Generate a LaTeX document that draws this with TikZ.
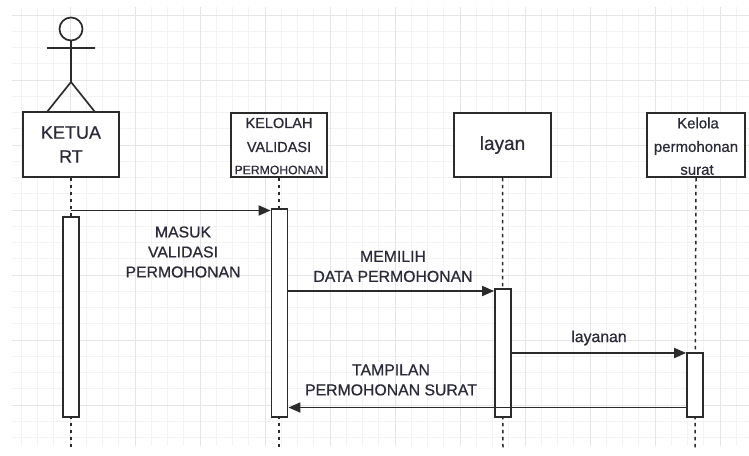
\documentclass[tikz,border=0pt]{standalone}
\usepackage{fontspec}
\setmainfont{Liberation Sans}[FakeBold=0.6]
\usetikzlibrary{arrows.meta}
\definecolor{ln}{HTML}{2B2B2B}
\definecolor{tx}{HTML}{2A2A38}
\definecolor{gminor}{HTML}{F3F3F3}
\definecolor{gmajor}{HTML}{E5E5E5}
\begin{document}
\begin{tikzpicture}[x=1pt,y=-1pt,
  head/.style={draw=ln,line width=1.8pt,fill=white,rectangle,inner sep=0pt},
  actbar/.style={draw=ln,line width=1.8pt,fill=white,rectangle,inner sep=0pt,minimum width=16pt},
  life/.style={draw=ln,line width=1.5pt,dash pattern=on 3.5pt off 3.5pt},
  msg/.style={draw=ln,line width=1.8pt,-{Triangle[length=12pt,width=10pt]}},
  lbl/.style={text=tx,align=center,font=\fontsize{15.8}{20}\selectfont,inner sep=0pt},
  htxt/.style={text=tx,inner sep=0pt}]
\useasboundingbox (0,0) rectangle (749,455);
\fill[white] (0,0) rectangle (749,455);
% grid
\begin{scope}
\clip (12,7) rectangle (749,445);
\foreach \i in {0,...,46} {\draw[gminor,line width=0.8pt] ({5+16.25*\i},0) -- ({5+16.25*\i},455);}
\foreach \i in {0,...,28} {\draw[gminor,line width=0.8pt] (0,{-1.25+16.25*\i}) -- (749,{-1.25+16.25*\i});}
\foreach \i in {0,...,12} {\draw[gmajor,line width=0.8pt] ({5+65*\i},0) -- ({5+65*\i},455);}
\foreach \i in {0,...,7} {\draw[gmajor,line width=0.8pt] (0,{15+65*\i}) -- (749,{15+65*\i});}
\end{scope}
% actor
\draw[ln,line width=1.7pt] (71,29) circle (11.5);
\draw[ln,line width=1.7pt] (71,40.5) -- (71,82) (47,48) -- (95,48) (47,112) -- (71,82) -- (95,112);
% heads
\node[head,minimum width=96pt,minimum height=65pt] (kt) at (71,144.5) {};
\node[htxt,align=center,font=\fontsize{18}{24}\selectfont] at (kt.center) {KETUA\\RT};
\node[head,minimum width=96pt,minimum height=64pt] (kv) at (279,145) {};
\node[htxt,font=\fontsize{14.5}{16}\selectfont] at (279,123) {KELOLAH};
\node[htxt,font=\fontsize{14.5}{16}\selectfont] at (279,147) {VALIDASI};
\node[htxt,font=\fontsize{12.2}{14}\selectfont] at (279,170) {PERMOHONAN};
\node[head,minimum width=97pt,minimum height=64pt] (ly) at (502.5,145) {};
\node[htxt,font=\fontsize{19}{22}\selectfont] at (ly.center) {layan};
\node[head,minimum width=98pt,minimum height=64pt] (kp) at (696,145) {};
\node[htxt,font=\fontsize{15}{16}\selectfont] at (698,123) {Kelola};
\node[htxt,font=\fontsize{15}{16}\selectfont] at (696,148) {permohonan};
\node[htxt,font=\fontsize{15}{16}\selectfont] at (697,170) {surat};
% lifelines
\coordinate (e1) at (71,450);
\coordinate (e2) at (279,450);
\coordinate (e3) at (503,450);
\coordinate (e4) at (695,450);
\draw[life] (kt.south) -- (e1);
\draw[life] (kv.south) -- (e2);
\draw[life] (ly.south) -- (e3);
\draw[life] (kp.south) -- (e4);
% activation bars
\node[actbar,minimum height=200pt] (a1) at (71,317) {};
\node[actbar,minimum height=208pt] (a2) at (279.5,313) {};
\node[actbar,minimum height=128pt] (a3) at (503,353) {};
\node[actbar,minimum height=64pt] (a4) at (695,385) {};
% messages
\coordinate (s1) at (71,210.5);
\draw[msg] (s1) -- (s1 -| a2.west);
\node[lbl] at (183,252) {MASUK\\VALIDASI\\PERMOHONAN};
\coordinate (s2) at (287.5,291);
\draw[msg] (s2) -- (s2 -| a3.west);
\node[lbl] at (393,266.5) {MEMILIH\\DATA PERMOHONAN};
\coordinate (s3) at (511,353);
\draw[msg] (s3) -- (s3 -| a4.west);
\node[lbl] at (599,338) {layanan};
\coordinate (s4) at (687,407.5);
\draw[msg] (s4) -- (s4 -| a2.east);
\node[lbl] at (391,380) {TAMPILAN\\PERMOHONAN SURAT};
\end{tikzpicture}
\end{document}
